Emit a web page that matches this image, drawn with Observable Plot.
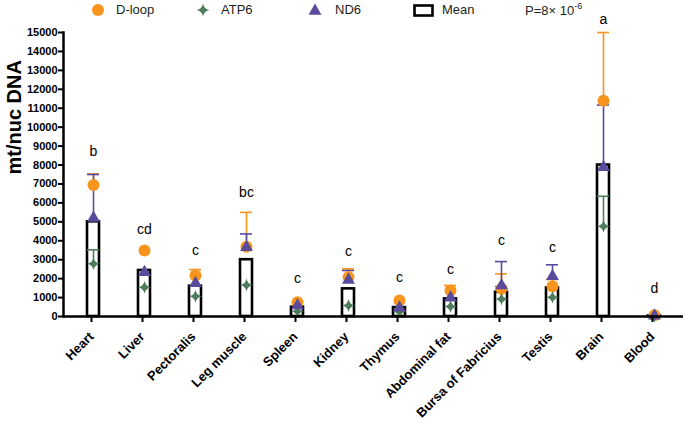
<!DOCTYPE html>
<html>
<head>
<meta charset="utf-8">
<script src="https://cdn.jsdelivr.net/npm/d3@7"></script>
<script src="https://cdn.jsdelivr.net/npm/@observablehq/plot@0.6"></script>
<style>
  html, body { margin: 0; padding: 0; background: #fff; }
  #wrap { position: relative; width: 685px; height: 421px; font-family: "Liberation Sans", Arial, sans-serif; }
  #chart { position: absolute; left: 0; top: 0; }
  .lg { position: absolute; font-size: 13px; color: #231f20; line-height: 1; white-space: nowrap; }
  .lg svg { display: block; }
  sup { font-size: 9px; vertical-align: 0; position: relative; top: -6px; }
</style>
</head>
<body>
<div id="wrap">
  <div id="chart"></div>
</div>
<script>
const categories = ["Heart","Liver","Pectoralis","Leg muscle","Spleen","Kidney","Thymus","Abdominal fat","Bursa of Fabricius","Testis","Brain","Blood"];
const meanValues = [5000, 2430, 1600, 3000, 490, 1460, 470, 930, 1280, 1510, 8000, 30];
const dloopValues = [6950, 3480, 2160, 3690, 755, 2080, 845, 1370, 1460, 1580, 11400, 60];
const dloopUpper = [7530, null, 2480, 5500, null, 2520, null, 1640, 2250, 1950, 15000, null];
const atp6Values = [2780, 1550, 1070, 1670, 280, 580, 250, 530, 930, 1020, 4770, 20];
const atp6Upper = [3520, null, null, null, null, null, null, null, 1580, null, 6350, null];
const nd6Values = [5200, 2340, 1760, 3660, 580, 1930, 460, 990, 1640, 2130, 7880, 40];
const nd6Upper = [7500, null, null, 4360, null, 2430, null, null, 2900, 2730, 11170, null];
const letters = ["b","cd","c","bc","c","c","c","c","c","c","a","d"];
const letterY = [8720, 4590, 3480, 6560, 1990, 3450, 2040, 2460, 4010, 3630, 15710, 1460];
const yTicks = [0,1000,2000,3000,4000,5000,6000,7000,8000,9000,10000,11000,12000,13000,14000,15000];

const ORANGE = "#f7941d", GREEN = "#4f7d5c", PURPLE = "#5a4a9c";

const star4 = {
  draw(ctx, size) {
    const r = Math.sqrt(size / Math.PI);
    const R = r * 1.3, c = r * 0.2;
    ctx.moveTo(0, -R);
    ctx.quadraticCurveTo(c, -c, R, 0);
    ctx.quadraticCurveTo(c, c, 0, R);
    ctx.quadraticCurveTo(-c, c, -R, 0);
    ctx.quadraticCurveTo(-c, -c, 0, -R);
    ctx.closePath();
  }
};

const base = categories.map((cat, i) => ({cat, mean: meanValues[i], letter: letters[i], ly: letterY[i]}));
function series(values, upper) {
  return categories.map((cat, i) => ({cat, value: values[i], upper: upper[i]}));
}
const dloop = series(dloopValues, dloopUpper);
const atp6 = series(atp6Values, atp6Upper);
const nd6 = series(nd6Values, nd6Upper);
const withErr = s => s.filter(d => d.upper != null);

function errMarks(s, color) {
  return [
    Plot.ruleX(withErr(s), {x: "cat", y1: "value", y2: "upper", stroke: color, strokeWidth: 1.6}),
    Plot.tickY(withErr(s), {x: "cat", y: "upper", stroke: color, strokeWidth: 1.6})
  ];
}

const chart = Plot.plot({
  width: 685,
  height: 421,
  marginLeft: 63,
  marginRight: 2,
  marginTop: 32,
  marginBottom: 105,
  style: {fontFamily: "'Liberation Sans', Arial, sans-serif", background: "transparent", color: "#000"},
  x: {type: "band", domain: categories, paddingInner: 0.77, paddingOuter: 0.385, label: null},
  y: {domain: [0, 15000], label: null},
  marks: [
    Plot.barY(base, {x: "cat", y: "mean", fill: "white", stroke: "black", strokeWidth: 2.6}),
    ...errMarks(dloop, ORANGE),
    ...errMarks(atp6, GREEN),
    ...errMarks(nd6, PURPLE),
    Plot.dot(dloop, {x: "cat", y: "value", r: 6, symbol: "circle", fill: ORANGE}),
    Plot.dot(atp6, {x: "cat", y: "value", r: 5, symbol: star4, fill: GREEN}),
    Plot.dot(nd6, {x: "cat", y: "value", r: 4.8, symbol: "triangle", fill: PURPLE}),
    Plot.text(base, {x: "cat", y: "ly", text: "letter", fontSize: 14, fill: "#000"}),
    Plot.ruleY([0], {stroke: "black", strokeWidth: 2.5}),
    Plot.frame({anchor: "left", stroke: "black", strokeWidth: 2.5}),
    Plot.axisY({ticks: yTicks, tickFormat: d => String(d), tickSize: 5, tickPadding: 1, strokeWidth: 2, fontSize: 11, fontWeight: "bold", label: null}),
    Plot.axisX({tickRotate: -45, tickSize: 6, tickPadding: 12, dx: -2, strokeWidth: 2, fontSize: 13, fontWeight: "bold", label: null}),
    Plot.text(["mt/nuc DNA"], {frameAnchor: "left", rotate: -90, dx: -49, fontSize: 20, fontWeight: "bold", fill: "#000"})
  ]
});
document.getElementById("chart").appendChild(chart);

// Legend (HTML, above the plot area)
const wrap = document.getElementById("wrap");
function addLegend(left, top, html) {
  const el = document.createElement("div");
  el.className = "lg";
  el.style.left = left + "px";
  el.style.top = top + "px";
  el.innerHTML = html;
  wrap.appendChild(el);
}
const starPath = (() => { const p = d3.path(); star4.draw(p, 5 * 5 * Math.PI); return p.toString(); })();
const triPath = d3.symbol(d3.symbolTriangle, 4.8 * 4.8 * Math.PI)();
addLegend(91, 3, `<svg width="14" height="14"><circle cx="7" cy="7" r="6" fill="${ORANGE}"/></svg>`);
addLegend(116, 3, "D-loop");
addLegend(195, 2, `<svg width="16" height="16"><path transform="translate(8,8)" d="${starPath}" fill="${GREEN}"/></svg>`);
addLegend(221, 3, "ATP6");
addLegend(307, 2, `<svg width="16" height="16"><path transform="translate(8,9)" d="${triPath}" fill="${PURPLE}"/></svg>`);
addLegend(335, 3, "ND6");
addLegend(413, 4, `<svg width="21" height="13"><rect x="1.5" y="1.5" width="18" height="10" fill="white" stroke="black" stroke-width="2.6"/></svg>`);
addLegend(442, 3, "Mean");
addLegend(525, 4, "P=8× 10<sup>-6</sup>");
</script>
</body>
</html>
